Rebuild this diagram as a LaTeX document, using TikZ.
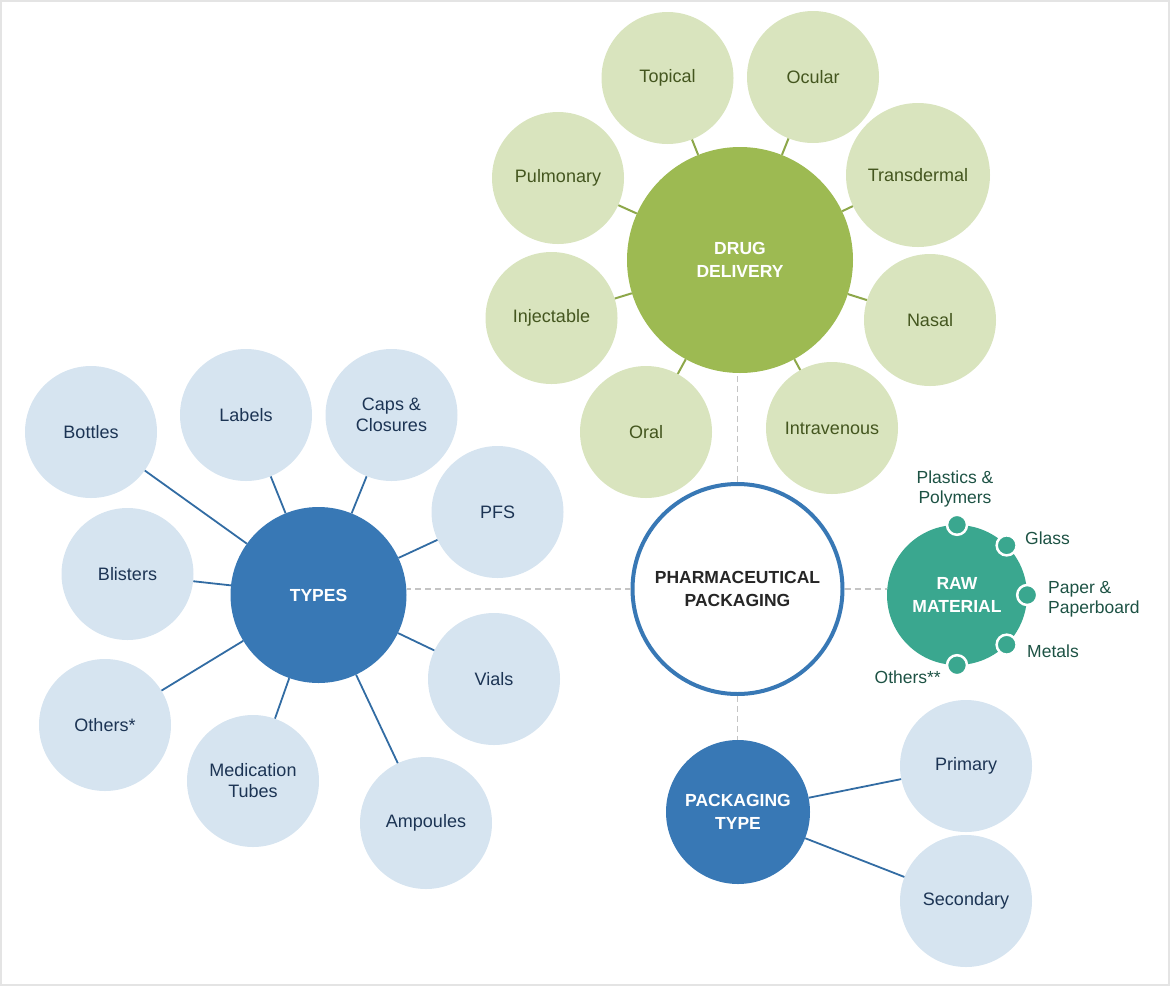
\documentclass[tikz,border=0pt]{standalone}
\usepackage{fontspec}
\setmainfont{Liberation Sans}
\usepackage{tikz}
\usetikzlibrary{positioning, calc, backgrounds}
\definecolor{drugdark}{HTML}{9DBA52}
\definecolor{druglight}{HTML}{D9E4BE}
\definecolor{drugtext}{HTML}{44561F}
\definecolor{typedark}{HTML}{3878B5}
\definecolor{typelight}{HTML}{D6E4F0}
\definecolor{typetext}{HTML}{1C3454}
\definecolor{rawteal}{HTML}{3AA78F}
\definecolor{rawtext}{HTML}{1D5244}
\definecolor{dashgray}{HTML}{C4C4C4}
\definecolor{framegray}{HTML}{E4E4E4}

\tikzset{
  hub/.style={circle, inner sep=0pt, minimum size=#1, align=center, text=white,
    font=\bfseries\fontsize{17.5}{22.5}\selectfont},
  sat/.style={circle, inner sep=0pt, minimum size=132pt, align=center,
    font=\fontsize{18}{21}\selectfont},
  drugsat/.style={sat, fill=druglight, text=drugtext},
  typesat/.style={sat, fill=typelight, text=typetext},
  rawdot/.style={circle, inner sep=0pt, minimum size=20pt, fill=rawteal, draw=white, line width=2.5pt},
  rawlabel/.style={inner sep=0pt, align=center, text=rawtext, font=\fontsize{17.5}{20}\selectfont},
  druglink/.style={draw=drugdark!90!black, line width=2pt},
  typelink/.style={draw=typedark!90!black, line width=1.8pt},
  dashlink/.style={draw=dashgray, line width=1.6pt, dash pattern=on 6pt off 4pt}
}

\begin{document}
\begin{tikzpicture}[x=1pt, y=-1pt]
  \useasboundingbox (0,0) rectangle (1170,986);
  \draw[framegray, line width=2.5pt] (1,1) rectangle (1169,985);

  % Centre
  \node[hub=210pt, draw=typedark, line width=4pt, fill=white, text=black!85] (pharm) at (737.5,589)
    {PHARMACEUTICAL\\PACKAGING};

  % Drug delivery
  \node[hub=226pt, fill=drugdark] (drug) at (740,260) {DRUG\\DELIVERY};
  \node[drugsat] (topical) at (667.5,78) {Topical};
  \node[drugsat] (ocular) at (813,77) {Ocular};
  \node[drugsat] (pulmonary) at (558,178) {Pulmonary};
  \node[drugsat, minimum size=144pt] (transdermal) at (918,175) {Transdermal};
  \node[drugsat] (injectable) at (551.5,318) {Injectable};
  \node[drugsat] (nasal) at (930,320) {Nasal};
  \node[drugsat] (oral) at (646,432) {Oral};
  \node[drugsat] (intravenous) at (832,428) {Intravenous};
  \foreach \n in {topical, ocular, pulmonary, transdermal, injectable, nasal, oral, intravenous}
    \draw[druglink] (drug) -- (\n);

  % Types
  \node[hub=176pt, fill=typedark] (types) at (318.5,595) {TYPES};
  \node[typesat] (bottles) at (91,432) {Bottles};
  \node[typesat] (labels) at (246,415) {Labels};
  \node[typesat] (caps) at (391.5,415) {Caps \&\\Closures};
  \node[typesat] (pfs) at (497.5,512) {PFS};
  \node[typesat] (blisters) at (127.5,574) {Blisters};
  \node[typesat] (vials) at (494,679) {Vials};
  \node[typesat] (others) at (105,725) {Others*};
  \node[typesat] (tubes) at (253,781) {Medication\\Tubes};
  \node[typesat] (ampoules) at (426,823) {Ampoules};
  \foreach \n in {bottles, labels, caps, pfs, blisters, vials, others, tubes, ampoules}
    \draw[typelink] (types) -- (\n);

  % Raw material
  \node[hub=140pt, fill=rawteal] (raw) at (957,595) {RAW\\MATERIAL};
  \node[rawdot] (dplastics) at (raw.north) {};
  \node[rawdot] (dglass) at (raw.north east) {};
  \node[rawdot] (dpaper) at (raw.east) {};
  \node[rawdot] (dmetals) at (raw.south east) {};
  \node[rawdot] (dothers) at (raw.south) {};
  \node[rawlabel] (lplastics) at (955,489) {Plastics \&\\Polymers};
  \node[rawlabel, anchor=west] (lglass) at (1025,538) {Glass};
  \node[rawlabel, anchor=west, align=left] (lpaper) at (1048,599) {Paper \&\\Paperboard};
  \node[rawlabel, anchor=west] (lmetals) at (1027,651) {Metals};
  \node[rawlabel, anchor=east] (lothers) at (941,677) {Others**};

  % Packaging type
  \node[hub=144pt, fill=typedark] (pkgtype) at (738,812) {PACKAGING\\TYPE};
  \node[typesat] (primary) at (966,766) {Primary};
  \node[typesat] (secondary) at (966,901) {Secondary};
  \draw[typelink] (pkgtype) -- (primary);
  \draw[typelink] (pkgtype) -- (secondary);

  % Dashed links to centre
  \draw[dashlink] (pharm.north) -- (pharm.north |- drug.south);
  \draw[dashlink] (pharm.west) -- (pharm.west -| types.east);
  \draw[dashlink] (pharm.east) -- (pharm.east -| raw.west);
  \draw[dashlink] (pharm.south) -- (pharm.south |- pkgtype.north);
\end{tikzpicture}
\end{document}
